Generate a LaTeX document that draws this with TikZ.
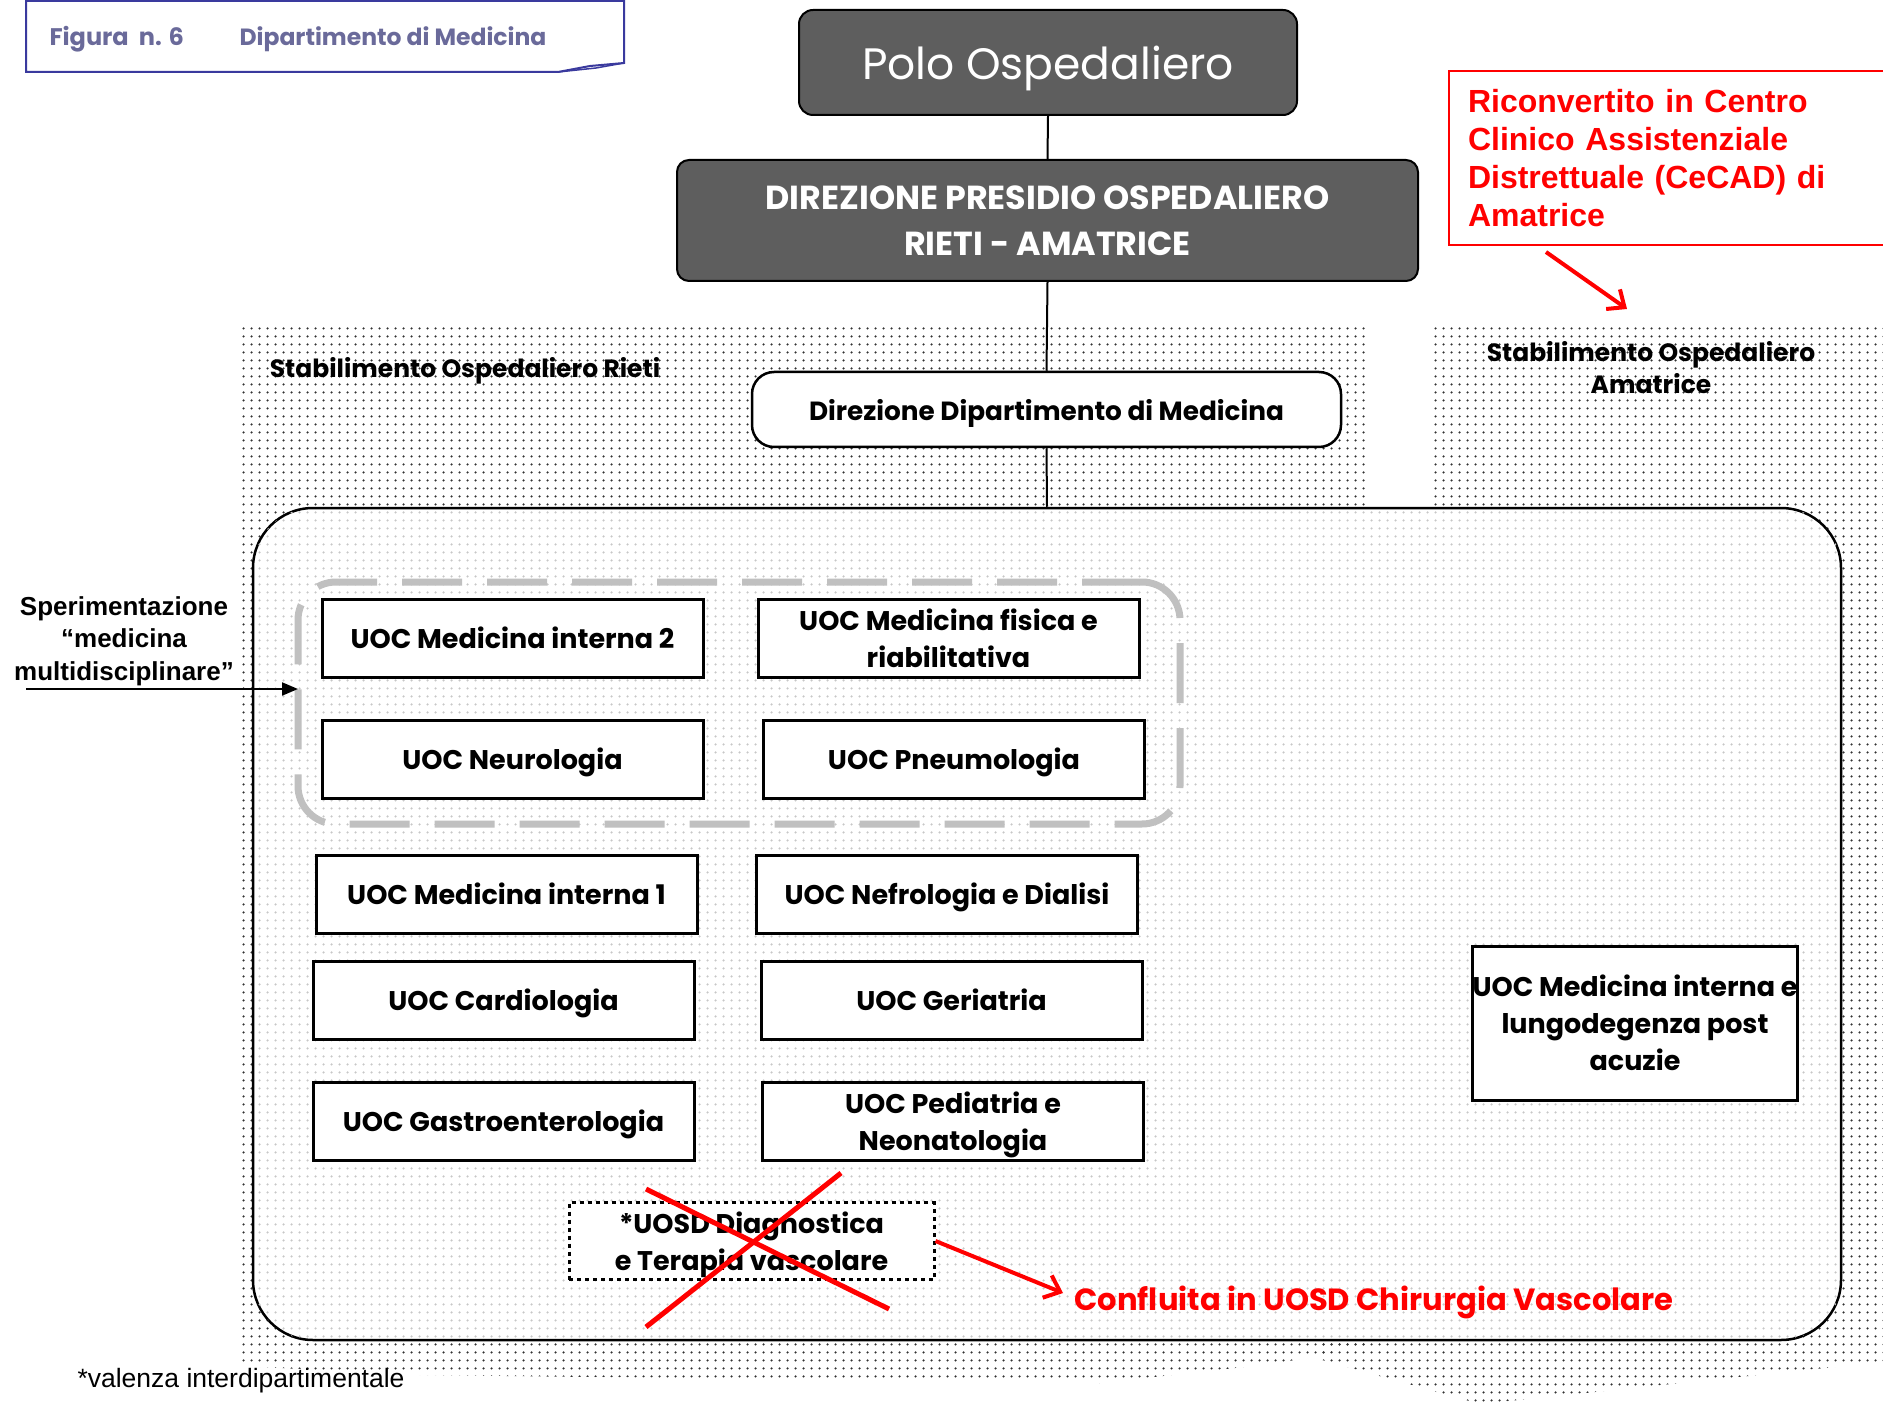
\documentclass[tikz,border=0pt]{standalone}
\usepackage{fontspec}
\usetikzlibrary{patterns.meta,arrows.meta}
\newfontfamily\fut{Poppins}
\newfontfamily\arl{Liberation Sans}
\newcommand\myfs[2]{\fontsize{#1pt}{#2pt}\selectfont}
\definecolor{boxgray}{HTML}{5E5E5E}
\definecolor{figblue}{HTML}{3A3A9E}
\definecolor{figtext}{HTML}{6A6A9A}
\definecolor{dashgray}{HTML}{C0C0C0}
\definecolor{myred}{HTML}{FF0000}
\tikzdeclarepattern{
  name=mydots, type=uncolored,
  bounding box={(0pt,0pt) and (8pt,8pt)},
  tile size={(8pt,8pt)},
  code={\fill (4pt,4pt) circle (1.35pt);}
}
\tikzset{
  darkbox/.style={draw=black, line width=2, fill=boxgray, text=white, align=center},
  uoc/.style={draw=black, line width=3, fill=white, minimum width=381, minimum height=78,
    align=center, font=\fut\bfseries\myfs{27}{37}, inner sep=0pt, text depth=0pt},
  lbl/.style={font=\fut\bfseries\myfs{25}{32}, align=center},
  redline/.style={draw=myred, line width=4},
}
\begin{document}
\begin{tikzpicture}[x=1pt,y=-1pt]
\useasboundingbox (0,0) rectangle (1883,1404);
\fill[white] (0,0) rectangle (1883,1404);
% dotted backgrounds
\fill[pattern={mydots}, pattern color=black!80]
  (240,324) -- (1367,324) -- (1367,1345) -- (1280,1363) -- (1100,1383) -- (420,1375) -- (240,1366) -- cycle;
\fill[pattern={mydots}, pattern color=black!80]
  (1431,324) -- (1883,324) -- (1883,1362) -- (1480,1404) -- (1322,1360) -- (1322,1340) -- (1431,1340) -- cycle;
% title box
\draw[figblue, line width=2] (26,1) -- (624,1) -- (624,63) -- (590,66) -- (558,72) -- (26,72) -- cycle;
\draw[figblue, line width=1.5] (558,72) -- (596,68) -- (624,63);
\node[anchor=west, text=figtext, text depth=0pt, font=\fut\bfseries\myfs{24}{28}] (figA) at (46,36) {Figura\ \ n. 6};
\node[anchor=west, text=figtext, text depth=0pt, font=\fut\bfseries\myfs{23.5}{28}] (figB) at (236,36) {Dipartimento di Medicina};
% main department box
\node[draw=black, line width=2.5, rounded corners=60, fill=white, minimum width=1588, minimum height=832,
  postaction={pattern={mydots}, pattern color=black!22}] (dept) at (1047,924) {};
% top hierarchy
\node[darkbox, rounded corners=14, minimum width=498, minimum height=105, text depth=0pt, font=\fut\myfs{44}{50}] (polo) at (1048,62.5) {Polo Ospedaliero};
\node[darkbox, rounded corners=12, minimum width=741, minimum height=121, font=\fut\bfseries\myfs{33.3}{46}] (pres) at (1047.5,220.5) {DIREZIONE PRESIDIO OSPEDALIERO\\RIETI - AMATRICE};
\node[draw=black, line width=2.5, rounded corners=22, fill=white, minimum width=589, minimum height=75, text depth=0pt, font=\fut\bfseries\myfs{26.3}{32}] (ddm) at (1046.5,409.5) {Direzione Dipartimento di Medicina};
\draw[line width=2] (polo.south) -- (pres.north);
\draw[line width=2] (pres.south) -- (ddm.north);
\draw[line width=2] (ddm.south) -- (dept.north);
% site labels
\node[lbl, text depth=0pt] (rieti) at (465,367) {Stabilimento Ospedaliero Rieti};
\node[lbl] (amat) at (1651,368) {Stabilimento Ospedaliero\\Amatrice};
% red note
\node[draw=myred, line width=2, anchor=north west, minimum height=174, text width=430, inner xsep=19pt,
  align=left, text=myred, font=\arl\bfseries\myfs{32}{38}] (rbox) at (1448,70)
  {Riconvertito in Centro\\Clinico Assistenziale\\Distrettuale (CeCAD) di\\Amatrice};
\coordinate (ra1) at (1546,252);
\coordinate (ra2) at (1627,309);
\draw[redline, -{Straight Barb[length=14pt,width=24pt,line width=4pt]}] (ra1) -- (ra2);
% multidisciplinary dashed group
\node[draw=dashgray, line width=7, dash pattern=on 60pt off 25pt, rounded corners=38, minimum width=882, minimum height=242] (multi) at (739,703) {};
% UOC boxes
\node[uoc] (mi2) at (512.5,638) {UOC Medicina interna 2};
\node[uoc] (mfr) at (948.5,638) {UOC Medicina fisica e\\riabilitativa};
\node[uoc] (neu) at (512.5,759) {UOC Neurologia};
\node[uoc] (pne) at (954,759) {UOC Pneumologia};
\node[uoc] (mi1) at (506.5,894) {UOC Medicina interna 1};
\node[uoc] (nef) at (947,894) {UOC Nefrologia e Dialisi};
\node[uoc] (car) at (503.5,1000) {UOC Cardiologia};
\node[uoc] (ger) at (951.5,1000) {UOC Geriatria};
\node[uoc] (gas) at (503.5,1121) {UOC Gastroenterologia};
\node[uoc] (ped) at (953,1121.5) {UOC Pediatria e\\Neonatologia};
\node[uoc, minimum width=320, minimum height=154] (lung) at (1635,1023) {UOC Medicina interna e\\lungodegenza post\\acuzie};
\node[uoc, draw=black, dash pattern=on 4pt off 4pt, minimum width=365, minimum height=77, fill=white] (uosd) at (751.5,1241) {*UOSD Diagnostica\\e Terapia vascolare};
% cross-out
\draw[myred, line width=5] (646,1189) -- (889,1309);
\draw[myred, line width=5] (841,1173) -- (646,1327);
% merged into
\node[anchor=west, text=myred, text depth=0pt, font=\fut\bfseries\myfs{30.6}{34}] (confl) at (1071,1298) {Confluita in UOSD Chirurgia Vascolare};
\coordinate (ca) at (1063,1293);
\draw[redline, -{Straight Barb[length=14pt,width=24pt,line width=4pt]}] (uosd.east) -- (ca);
% sperimentazione
\node[font=\arl\bfseries\myfs{26}{32.5}, align=center] (sper) at (124,641) {Sperimentazione\\“medicina\\multidisciplinare”};
\coordinate (spA) at (26,689);
\coordinate (spB) at (298,689);
\draw[line width=2, -{Triangle[length=16pt,width=13pt]}] (spA) -- (spB);
% footnote
\node[anchor=west, font=\arl\myfs{26.5}{30}] (foot) at (74,1381) {*valenza interdipartimentale};
\end{tikzpicture}
\end{document}
